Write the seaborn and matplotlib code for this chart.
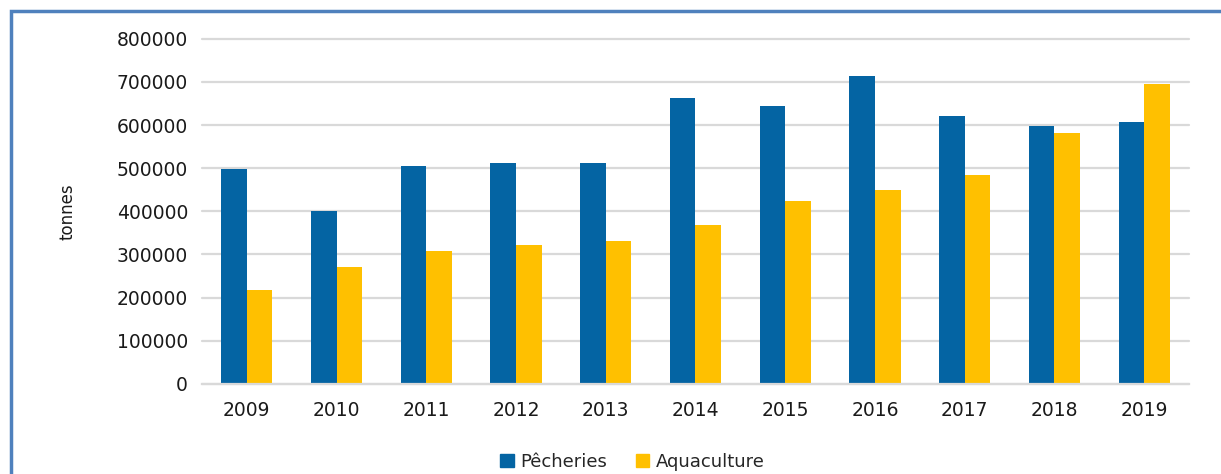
import matplotlib
matplotlib.use("Agg")
import matplotlib.pyplot as plt
from matplotlib.patches import Rectangle
import numpy as np
import pandas as pd
import seaborn as sns

years = ["2009", "2010", "2011", "2012", "2013", "2014", "2015", "2016", "2017", "2018", "2019"]
pecheries = [498000, 400000, 506000, 511000, 513000, 662000, 643000, 714000, 622000, 597000, 607000]
aquaculture = [218000, 272000, 309000, 322000, 332000, 368000, 425000, 450000, 484000, 581000, 695000]
series_names = ["Pêcheries", "Aquaculture"]
yticks = [0, 100000, 200000, 300000, 400000, 500000, 600000, 700000, 800000]

df = pd.DataFrame({
    "year": years * 2,
    "tonnes": pecheries + aquaculture,
    "serie": [series_names[0]] * len(years) + [series_names[1]] * len(years),
})

sns.set_theme(style="white")
plt.rcParams["font.family"] = ["DejaVu Sans"]

fig = plt.figure(figsize=(12.21, 4.74), dpi=100)
ax = fig.add_axes([0.1654, 0.1899, 0.8084, 0.7285])

palette = {series_names[0]: "#0464A3", series_names[1]: "#FFC000"}
sns.barplot(data=df, x="year", y="tonnes", hue="serie", palette=palette,
            width=0.57, saturation=1, linewidth=0, ax=ax, legend=False)

ax.set_xlim(-0.5, len(years) - 0.5)
ax.set_ylim(0, 800000)
ax.set_yticks(yticks)
ax.set_yticklabels([str(v) for v in yticks])
ax.yaxis.grid(True, color="#D9D9D9", linewidth=1.6)
ax.set_axisbelow(True)
for gl in ax.get_ygridlines():
    gl.set_clip_on(False)

for s in ["top", "right", "left"]:
    ax.spines[s].set_visible(False)
ax.spines["bottom"].set_color("#D9D9D9")
ax.spines["bottom"].set_linewidth(1.6)

# category boundary ticks on the x axis
ax.set_xticks(np.arange(-0.5, len(years), 1.0), minor=True)
ax.tick_params(axis="x", which="minor", length=5, width=1.6, color="#D9D9D9", direction="out")
ax.tick_params(axis="x", which="major", length=0, pad=12, labelsize=13.5, labelcolor="#1a1a1a")
ax.tick_params(axis="y", length=0, pad=10, labelsize=13.5, labelcolor="#1a1a1a")

ax.set_xlabel("")
ax.set_ylabel("tonnes", fontsize=12, color="#1a1a1a", labelpad=29)

# legend
handles = [Rectangle((0, 0), 1, 1, color=palette[n]) for n in series_names]
fig.legend(handles, series_names, loc="center", bbox_to_anchor=(0.518, 0.026),
           ncol=2, frameon=False, fontsize=13, handlelength=0.75, handleheight=0.75,
           handletextpad=0.35, columnspacing=1.6, borderaxespad=0)

# surrounding frame (runs past the right and bottom edges)
fig.patches.append(Rectangle((10.7 / 1221, -0.5), 1.5, 1.5 - 10.7 / 474,
                             transform=fig.transFigure, fill=False,
                             edgecolor="#4F81BD", linewidth=2.5, figure=fig))

fig.savefig("out.png", dpi=100)
